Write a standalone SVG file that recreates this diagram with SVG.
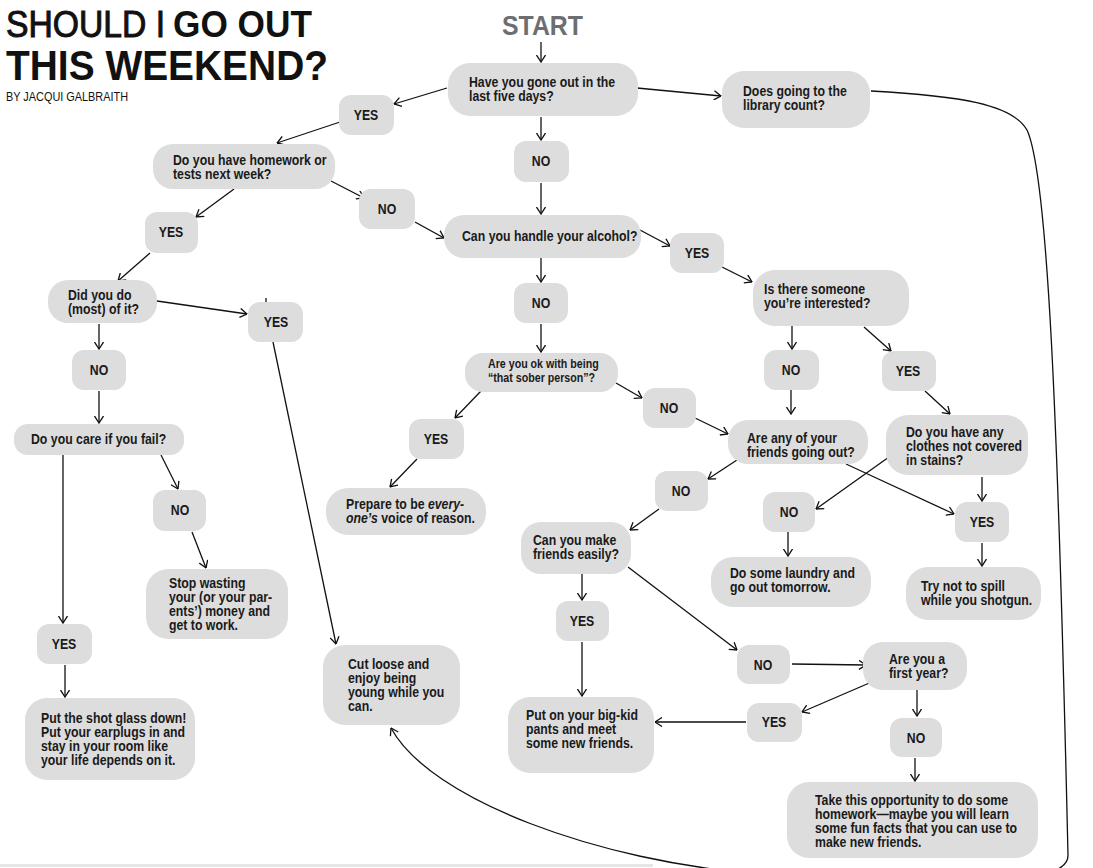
<svg xmlns="http://www.w3.org/2000/svg" width="1093" height="868" viewBox="0 0 1093 868">
<style>
.bg{fill:#ffffff}
.box{fill:#dddddd}
.t{font-family:"Liberation Sans",Arial,sans-serif;font-weight:bold;font-size:15px;fill:#1a1a1a}
.s{font-size:13px}
.c{text-anchor:middle}
.ln{fill:none;stroke:#111111;stroke-width:1.3;marker-end:url(#arr)}
.plain{fill:none;stroke:#111111;stroke-width:1.3}
.title{font-family:"Liberation Sans",Arial,sans-serif;fill:#111111}
</style>
<defs>
<marker id="arr" viewBox="0 0 8 10" refX="7.5" refY="5" markerWidth="8" markerHeight="10" markerUnits="userSpaceOnUse" orient="auto">
<path d="M0.5,0.5 L7.5,5 L0.5,9.5" fill="none" stroke="#111111" stroke-width="1.3"/>
</marker>
</defs>
<rect class="bg" x="0" y="0" width="1093" height="868"/>
<rect x="0" y="864" width="653" height="3" fill="#e6e6e6"/>

<g id="title">
<text class="title" x="6" y="37" font-size="37" font-weight="normal" stroke="#111111" stroke-width="1" textLength="159" lengthAdjust="spacingAndGlyphs">SHOULD I</text>
<text class="title" x="173" y="37" font-size="37" font-weight="bold" textLength="139" lengthAdjust="spacingAndGlyphs">GO OUT</text>
<text class="title" x="6" y="80" font-size="42" font-weight="bold" textLength="322" lengthAdjust="spacingAndGlyphs">THIS WEEKEND?</text>
<text class="title" x="6" y="101" font-size="12.5" font-weight="normal" textLength="122" lengthAdjust="spacingAndGlyphs">BY JACQUI GALBRAITH</text>
<text x="502" y="35" font-family="Liberation Sans,Arial,sans-serif" font-weight="bold" font-size="28" fill="#6d6e71" textLength="81" lengthAdjust="spacingAndGlyphs">START</text>
</g>

<g id="connectors">
<line class="ln" x1="541" y1="42" x2="541" y2="62"/>
<line class="ln" x1="447" y1="88" x2="394" y2="104"/>
<line class="ln" x1="340" y1="122" x2="277" y2="143"/>
<line class="ln" x1="637" y1="88" x2="721" y2="96"/>
<line class="ln" x1="541" y1="117" x2="541" y2="140"/>
<line class="ln" x1="541" y1="183" x2="541" y2="214"/>
<line class="ln" x1="331" y1="181" x2="364" y2="198"/>
<line class="ln" x1="415" y1="222" x2="444" y2="238"/>
<line class="ln" x1="234" y1="189" x2="196" y2="217"/>
<line class="ln" x1="150" y1="253" x2="118" y2="281"/>
<line class="ln" x1="157" y1="301" x2="247" y2="314"/>
<line class="plain" x1="266" y1="298" x2="266" y2="318"/>
<line class="ln" x1="99" y1="324" x2="99" y2="349"/>
<line class="ln" x1="99" y1="391" x2="99" y2="423"/>
<line class="ln" x1="161" y1="455" x2="178" y2="489"/>
<line class="ln" x1="192" y1="532" x2="206" y2="568"/>
<line class="ln" x1="63" y1="451" x2="63" y2="623"/>
<line class="ln" x1="65" y1="665" x2="65" y2="697"/>
<line class="ln" x1="273" y1="342" x2="336" y2="644"/>
<line class="ln" x1="541" y1="258" x2="541" y2="282"/>
<line class="ln" x1="541" y1="324" x2="541" y2="352"/>
<line class="ln" x1="640" y1="230" x2="670" y2="246"/>
<line class="ln" x1="722" y1="267" x2="752" y2="282"/>
<line class="ln" x1="481" y1="391" x2="455" y2="418"/>
<line class="ln" x1="417" y1="459" x2="390" y2="487"/>
<line class="ln" x1="616" y1="383" x2="642" y2="398"/>
<line class="ln" x1="695" y1="418" x2="728" y2="434"/>
<line class="ln" x1="792" y1="326" x2="792" y2="349"/>
<line class="ln" x1="864" y1="327" x2="891" y2="351"/>
<line class="ln" x1="791" y1="390" x2="791" y2="414"/>
<line class="ln" x1="925" y1="391" x2="950" y2="414"/>
<line class="ln" x1="737" y1="460" x2="708" y2="479"/>
<line class="ln" x1="846" y1="464" x2="954" y2="514"/>
<line class="ln" x1="889" y1="457" x2="816" y2="509"/>
<line class="ln" x1="982" y1="477" x2="982" y2="501"/>
<line class="ln" x1="788" y1="532" x2="788" y2="556"/>
<line class="ln" x1="982" y1="543" x2="982" y2="566"/>
<line class="ln" x1="659" y1="509" x2="630" y2="530"/>
<line class="ln" x1="582" y1="574" x2="582" y2="600"/>
<line class="ln" x1="628" y1="567" x2="737" y2="650"/>
<line class="ln" x1="582" y1="642" x2="582" y2="696"/>
<line class="ln" x1="792" y1="664" x2="866" y2="665"/>
<line class="ln" x1="874" y1="681" x2="802" y2="712"/>
<line class="ln" x1="917" y1="690" x2="917" y2="716"/>
<line class="ln" x1="746" y1="722" x2="655" y2="722"/>
<line class="ln" x1="915" y1="758" x2="915" y2="781"/>
<path class="ln" d="M871,91 C960,96 1012,104 1027,130 C1048,175 1058,420 1068,855 C1069,882 1000,884 760,874 C600,862 430,800 391,728"/>
</g>

<g id="n_q1"><rect class="box" x="448" y="63" width="190" height="53" rx="22"/><text class="t" transform="translate(469,87) scale(0.82,1)">Have you gone out in the</text><text class="t" transform="translate(469,101) scale(0.82,1)">last five days?</text></g>
<g id="n_library"><rect class="box" x="722" y="71" width="148" height="57" rx="22"/><text class="t" transform="translate(743,96) scale(0.82,1)">Does going to the</text><text class="t" transform="translate(743,110) scale(0.82,1)">library count?</text></g>
<g id="n_yes1"><rect class="box" x="339" y="95" width="55" height="40" rx="12"/><text class="t c" transform="translate(366,120) scale(0.82,1)">YES</text></g>
<g id="n_homework"><rect class="box" x="153" y="144" width="182" height="45" rx="20"/><text class="t" transform="translate(173,165) scale(0.82,1)">Do you have homework or</text><text class="t" transform="translate(173,179) scale(0.82,1)">tests next week?</text></g>
<g id="n_no1"><rect class="box" x="359" y="189" width="56" height="40" rx="12"/><text class="t c" transform="translate(387,214) scale(0.82,1)">NO</text></g>
<g id="n_yes2"><rect class="box" x="145" y="212" width="53" height="41" rx="12"/><text class="t c" transform="translate(171,237) scale(0.82,1)">YES</text></g>
<g id="n_alcohol"><rect class="box" x="444" y="215" width="197" height="43" rx="20"/><text class="t" transform="translate(462,241) scale(0.82,1)">Can you handle your alcohol?</text></g>
<g id="n_no2"><rect class="box" x="514" y="141" width="55" height="41" rx="12"/><text class="t c" transform="translate(541,166) scale(0.82,1)">NO</text></g>
<g id="n_yes3"><rect class="box" x="670" y="233" width="54" height="40" rx="12"/><text class="t c" transform="translate(697,258) scale(0.82,1)">YES</text></g>
<g id="n_no3"><rect class="box" x="514" y="283" width="54" height="40" rx="12"/><text class="t c" transform="translate(541,308) scale(0.82,1)">NO</text></g>
<g id="n_didyou"><rect class="box" x="48" y="280" width="109" height="43" rx="20"/><text class="t" transform="translate(68,300) scale(0.82,1)">Did you do</text><text class="t" transform="translate(68,314) scale(0.82,1)">(most) of it?</text></g>
<g id="n_yes4"><rect class="box" x="248" y="302" width="55" height="40" rx="12"/><text class="t c" transform="translate(276,327) scale(0.82,1)">YES</text></g>
<g id="n_no4"><rect class="box" x="72" y="350" width="54" height="40" rx="12"/><text class="t c" transform="translate(99,375) scale(0.82,1)">NO</text></g>
<g id="n_care"><rect class="box" x="14" y="424" width="170" height="31" rx="14"/><text class="t" transform="translate(31,444) scale(0.82,1)">Do you care if you fail?</text></g>
<g id="n_no5"><rect class="box" x="153" y="490" width="53" height="41" rx="12"/><text class="t c" transform="translate(180,515) scale(0.82,1)">NO</text></g>
<g id="n_stop"><rect class="box" x="146" y="569" width="142" height="70" rx="22"/><text class="t" transform="translate(169,588) scale(0.82,1)">Stop wasting</text><text class="t" transform="translate(169,602) scale(0.82,1)">your (or your par-</text><text class="t" transform="translate(169,616) scale(0.82,1)">ents’) money and</text><text class="t" transform="translate(169,630) scale(0.82,1)">get to work.</text></g>
<g id="n_yes5"><rect class="box" x="37" y="624" width="55" height="40" rx="12"/><text class="t c" transform="translate(64,649) scale(0.82,1)">YES</text></g>
<g id="n_shot"><rect class="box" x="25" y="698" width="170" height="82" rx="22"/><text class="t" transform="translate(41,723) scale(0.82,1)">Put the shot glass down!</text><text class="t" transform="translate(41,737) scale(0.82,1)">Put your earplugs in and</text><text class="t" transform="translate(41,751) scale(0.82,1)">stay in your room like</text><text class="t" transform="translate(41,765) scale(0.82,1)">your life depends on it.</text></g>
<g id="n_cut"><rect class="box" x="323" y="645" width="137" height="80" rx="22"/><text class="t" transform="translate(348,669) scale(0.82,1)">Cut loose and</text><text class="t" transform="translate(348,683) scale(0.82,1)">enjoy being</text><text class="t" transform="translate(348,697) scale(0.82,1)">young while you</text><text class="t" transform="translate(348,711) scale(0.82,1)">can.</text></g>
<g id="n_sober"><rect class="box" x="465" y="353" width="153" height="39" rx="18"/><text class="t s" transform="translate(488,368) scale(0.82,1)">Are you ok with being</text><text class="t s" transform="translate(488,382) scale(0.82,1)">“that sober person”?</text></g>
<g id="n_yes6"><rect class="box" x="409" y="419" width="55" height="40" rx="12"/><text class="t c" transform="translate(436,444) scale(0.82,1)">YES</text></g>
<g id="n_prepare"><rect class="box" x="326" y="488" width="160" height="47" rx="22"/><text class="t" transform="translate(346,509) scale(0.82,1)">Prepare to be <tspan font-style="italic">every-</tspan></text><text class="t" transform="translate(346,523) scale(0.82,1)"><tspan font-style="italic">one’s</tspan> voice of reason.</text></g>
<g id="n_no6"><rect class="box" x="643" y="388" width="53" height="40" rx="12"/><text class="t c" transform="translate(669,413) scale(0.82,1)">NO</text></g>
<g id="n_interested"><rect class="box" x="753" y="270" width="156" height="56" rx="22"/><text class="t" transform="translate(764,294) scale(0.82,1)">Is there someone</text><text class="t" transform="translate(764,308) scale(0.82,1)">you’re interested?</text></g>
<g id="n_no7"><rect class="box" x="764" y="350" width="55" height="40" rx="12"/><text class="t c" transform="translate(791,375) scale(0.82,1)">NO</text></g>
<g id="n_yes7"><rect class="box" x="882" y="351" width="54" height="40" rx="12"/><text class="t c" transform="translate(908,376) scale(0.82,1)">YES</text></g>
<g id="n_friends"><rect class="box" x="728" y="420" width="140" height="44" rx="20"/><text class="t" transform="translate(747,443) scale(0.82,1)">Are any of your</text><text class="t" transform="translate(747,457) scale(0.82,1)">friends going out?</text></g>
<g id="n_clothes"><rect class="box" x="886" y="415" width="142" height="60" rx="22"/><text class="t" transform="translate(906,437) scale(0.82,1)">Do you have any</text><text class="t" transform="translate(906,451) scale(0.82,1)">clothes not covered</text><text class="t" transform="translate(906,465) scale(0.82,1)">in stains?</text></g>
<g id="n_no8"><rect class="box" x="655" y="471" width="53" height="40" rx="12"/><text class="t c" transform="translate(681,496) scale(0.82,1)">NO</text></g>
<g id="n_canmake"><rect class="box" x="521" y="522" width="110" height="52" rx="20"/><text class="t" transform="translate(533,545) scale(0.82,1)">Can you make</text><text class="t" transform="translate(533,559) scale(0.82,1)">friends easily?</text></g>
<g id="n_no9"><rect class="box" x="763" y="492" width="52" height="40" rx="12"/><text class="t c" transform="translate(789,517) scale(0.82,1)">NO</text></g>
<g id="n_laundry"><rect class="box" x="711" y="557" width="160" height="50" rx="22"/><text class="t" transform="translate(730,578) scale(0.82,1)">Do some laundry and</text><text class="t" transform="translate(730,592) scale(0.82,1)">go out tomorrow.</text></g>
<g id="n_yes8"><rect class="box" x="955" y="502" width="54" height="40" rx="12"/><text class="t c" transform="translate(982,527) scale(0.82,1)">YES</text></g>
<g id="n_try"><rect class="box" x="906" y="567" width="135" height="53" rx="22"/><text class="t" transform="translate(921,591) scale(0.82,1)">Try not to spill</text><text class="t" transform="translate(921,605) scale(0.82,1)">while you shotgun.</text></g>
<g id="n_yes9"><rect class="box" x="556" y="601" width="53" height="40" rx="12"/><text class="t c" transform="translate(582,626) scale(0.82,1)">YES</text></g>
<g id="n_no10"><rect class="box" x="737" y="645" width="53" height="39" rx="12"/><text class="t c" transform="translate(763,670) scale(0.82,1)">NO</text></g>
<g id="n_first"><rect class="box" x="863" y="642" width="104" height="48" rx="20"/><text class="t" transform="translate(889,664) scale(0.82,1)">Are you a</text><text class="t" transform="translate(889,678) scale(0.82,1)">first year?</text></g>
<g id="n_yes10"><rect class="box" x="747" y="703" width="55" height="39" rx="12"/><text class="t c" transform="translate(774,727) scale(0.82,1)">YES</text></g>
<g id="n_no11"><rect class="box" x="890" y="718" width="52" height="39" rx="12"/><text class="t c" transform="translate(916,743) scale(0.82,1)">NO</text></g>
<g id="n_bigkid"><rect class="box" x="508" y="697" width="146" height="76" rx="22"/><text class="t" transform="translate(526,720) scale(0.82,1)">Put on your big-kid</text><text class="t" transform="translate(526,734) scale(0.82,1)">pants and meet</text><text class="t" transform="translate(526,748) scale(0.82,1)">some new friends.</text></g>
<g id="n_take"><rect class="box" x="787" y="782" width="251" height="76" rx="22"/><text class="t" transform="translate(815,805) scale(0.82,1)">Take this opportunity to do some</text><text class="t" transform="translate(815,819) scale(0.82,1)">homework—maybe you will learn</text><text class="t" transform="translate(815,833) scale(0.82,1)">some fun facts that you can use to</text><text class="t" transform="translate(815,847) scale(0.82,1)">make new friends.</text></g>
</svg>
